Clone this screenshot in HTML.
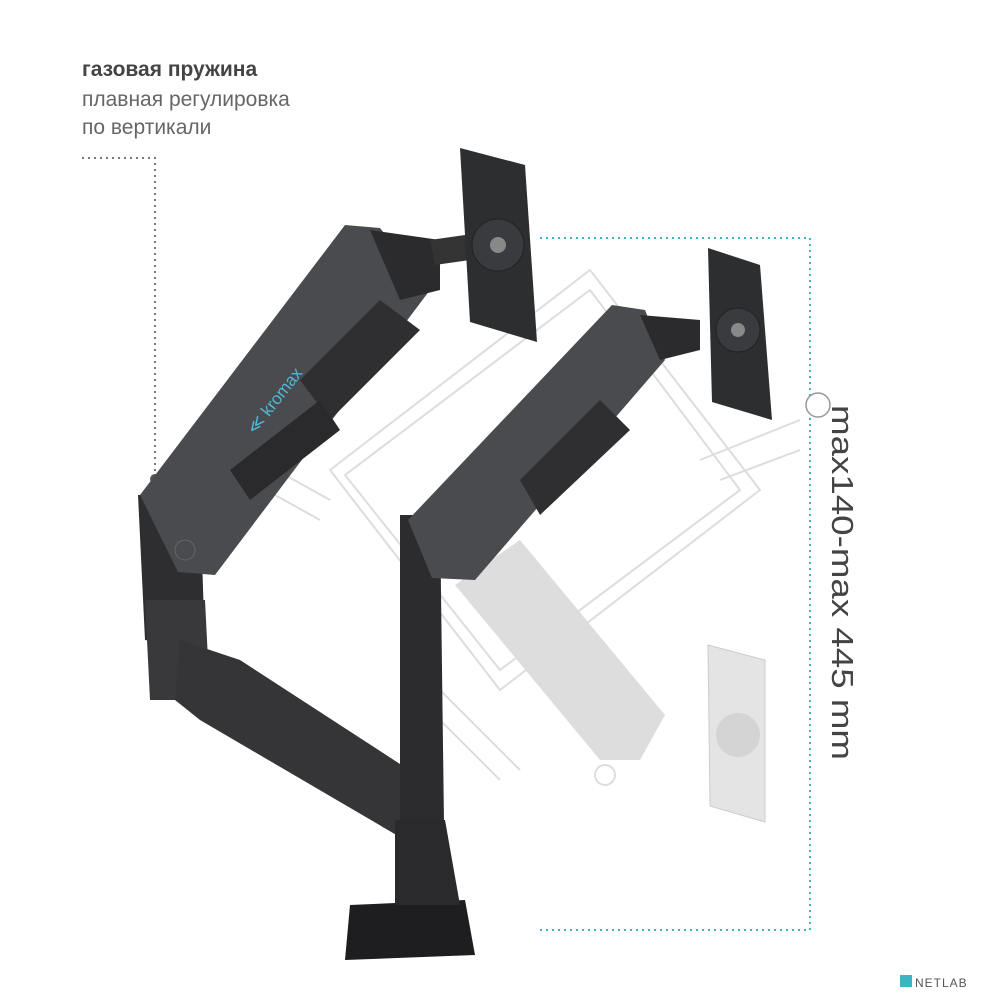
<!DOCTYPE html>
<html><head><meta charset="utf-8"><style>
html,body{margin:0;padding:0;background:#fff;}
.wrap{position:relative;width:1000px;height:1000px;overflow:hidden;font-family:"Liberation Sans",sans-serif;}
.t{position:absolute;left:82px;color:#666;font-size:21px;line-height:28px;}
</style></head><body><div class="wrap">
<div class="t" style="top:56px;color:#444;font-weight:bold;">газовая пружина</div>
<div class="t" style="top:86px;">плавная регулировка</div>
<div class="t" style="top:114px;">по вертикали</div>
<svg width="1000" height="1000" style="position:absolute;left:0;top:0">
<g stroke="#ddd" stroke-width="2" fill="none">
<polygon points="330,470 590,270 760,490 500,690"/>
<polygon points="345,475 590,290 740,490 500,670"/>
<line x1="700" y1="460" x2="800" y2="420"/><line x1="720" y1="480" x2="800" y2="450"/>
<line x1="420" y1="700" x2="500" y2="780"/><line x1="440" y1="690" x2="520" y2="770"/>
<line x1="230" y1="470" x2="320" y2="520"/><line x1="240" y1="450" x2="330" y2="500"/>
<circle cx="605" cy="775" r="10"/>
</g>
<path d="M82,158 H155 V475" stroke="#777" stroke-width="2" stroke-dasharray="2,4" fill="none"/>
<circle cx="155" cy="479" r="5" fill="#555"/>
<path d="M540,238 H810 V930 H540" stroke="#3bb4c4" stroke-width="2" stroke-dasharray="2,4" fill="none"/>
<circle cx="818" cy="405" r="12" fill="#fff" stroke="#999" stroke-width="1.5"/>
<polygon points="455,585 520,540 665,715 640,760 600,760" fill="#ddd"/>
<polygon points="708,645 765,660 765,822 710,806" fill="#e4e4e4" stroke="#ccc"/>
<circle cx="738" cy="735" r="22" fill="#d4d4d4"/>
<polygon points="138,495 200,495 205,650 145,640" fill="#2e2e30"/>
<polygon points="145,600 205,600 210,700 150,700" fill="#39393b"/>
<polygon points="180,640 240,660 440,790 430,845 405,840 200,720 175,700" fill="#353537"/>
<polygon points="400,515 440,515 445,900 400,900" fill="#2c2c2e"/>
<polygon points="350,905 465,900 475,955 345,960" fill="#1e1e20"/>
<polygon points="395,820 445,820 460,905 395,905" fill="#2a2a2c"/>
<polygon points="140,495 345,225 380,228 430,290 215,575 178,572" fill="#4a4b4f"/>
<polygon points="370,230 440,240 440,290 400,300" fill="#2b2b2d"/>
<polygon points="300,380 380,300 420,330 330,420" fill="#2f2f31"/>
<polygon points="230,470 320,400 340,430 250,500" fill="#2a2a2c"/>
<text x="0" y="0" transform="translate(255,435) rotate(-52)" fill="#4fb8d8" font-size="17" font-family="Liberation Sans,sans-serif">≪ kromax</text>
<polygon points="430,240 465,235 470,260 435,265" fill="#333"/>
<polygon points="460,148 525,165 537,342 470,322" fill="#2d2e30"/>
<circle cx="498" cy="245" r="26" fill="#3a3b3e" stroke="#222"/><circle cx="498" cy="245" r="8" fill="#888"/>
<polygon points="408,520 612,305 645,310 665,360 475,580 432,578" fill="#4a4b4f"/>
<polygon points="640,315 700,320 700,350 660,360" fill="#2b2b2d"/>
<polygon points="520,480 600,400 630,430 540,515" fill="#2f2f31"/>
<polygon points="708,248 760,265 772,420 712,402" fill="#2d2e30"/>
<circle cx="738" cy="330" r="22" fill="#3a3b3e" stroke="#222"/><circle cx="738" cy="330" r="7" fill="#888"/>
<circle cx="185" cy="550" r="10" fill="none" stroke="#666"/>
<text transform="translate(832,405) rotate(90)" fill="#444" font-size="31" font-family="Liberation Sans,sans-serif" textLength="355" lengthAdjust="spacingAndGlyphs">max140-max 445 mm</text>
<rect x="900" y="975" width="12" height="12" fill="#3bb4c4"/>
<text x="915" y="987" fill="#555" font-size="12" font-family="Liberation Sans,sans-serif" letter-spacing="1">NETLAB</text>
</svg>
</div></body></html>
